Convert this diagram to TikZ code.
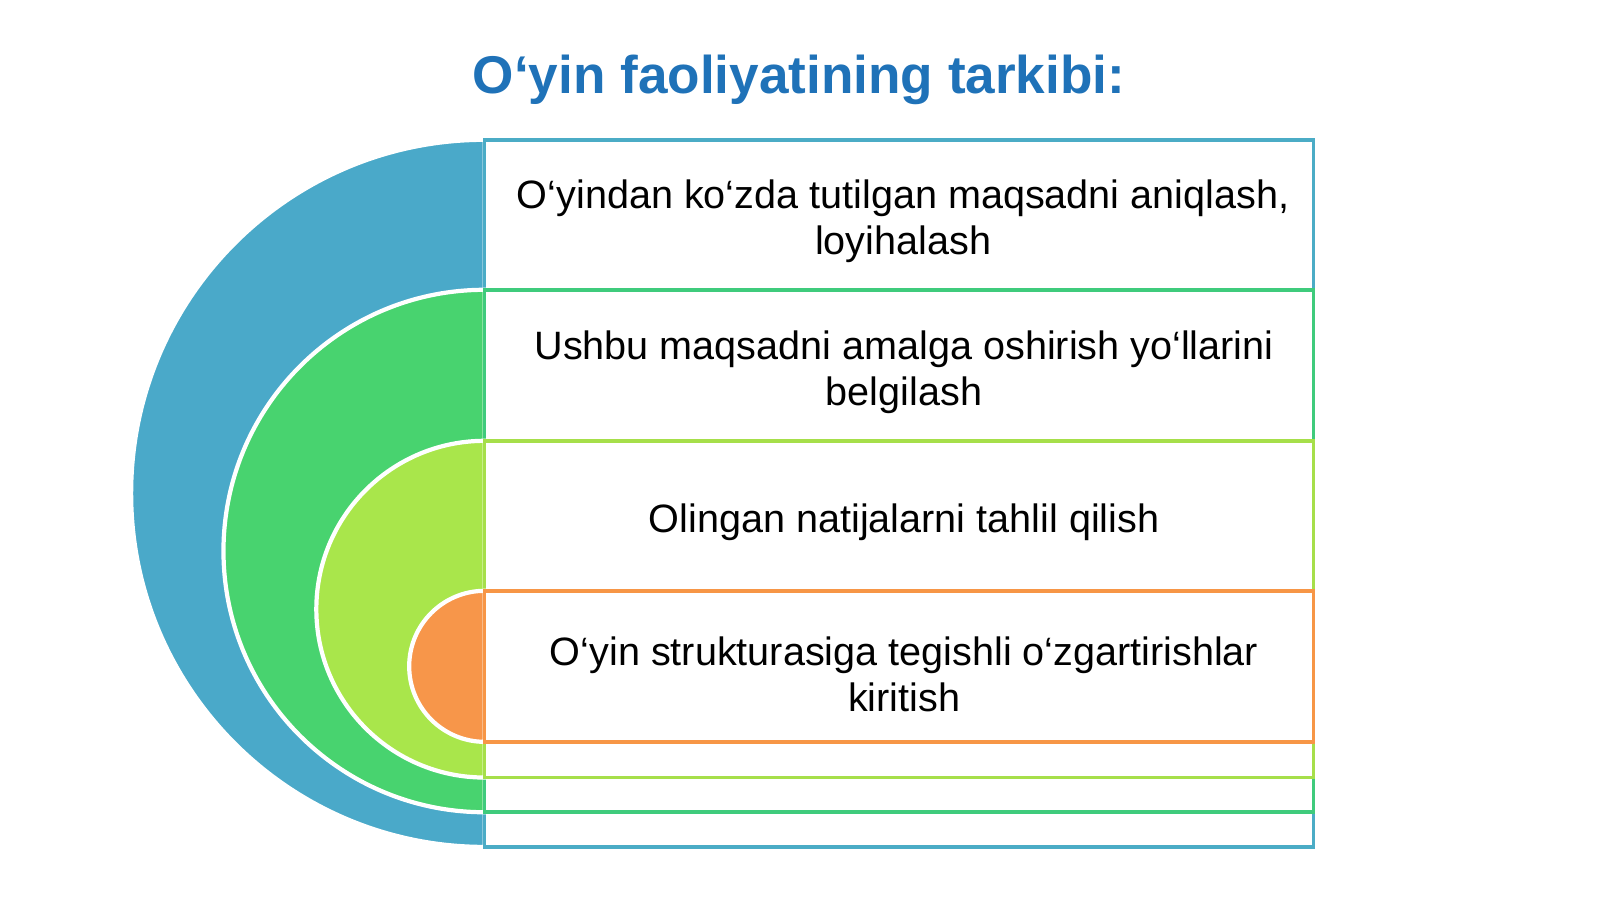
\documentclass[tikz,border=0pt]{standalone}
\usepackage{fontspec}
\setmainfont{Liberation Sans}
\definecolor{titleblue}{HTML}{1F72B8}
\definecolor{ringblue}{HTML}{4AA9C9}
\definecolor{ringgreen}{HTML}{48D36F}
\definecolor{ringlime}{HTML}{A9E64B}
\definecolor{ringorange}{HTML}{F7964A}
\definecolor{edgeblue}{HTML}{4BACC6}
\definecolor{edgegreen}{HTML}{3FCB7C}
\definecolor{edgelime}{HTML}{A6DF4A}
\definecolor{edgeorange}{HTML}{F79646}
\tikzset{
  ring/.style={draw=white, line width=1.2pt},
  band/.style={fill=white, line width=1pt},
  itemtext/.style={align=center, font=\fontsize{11.25}{13.1}\selectfont, inner sep=0pt}
}
\begin{document}
\begin{tikzpicture}[x=0.0102cm, y=-0.0102cm]
  \useasboundingbox (0,0) rectangle (1568,881);
  \node at (783,78) [font=\bfseries\fontsize{15.1}{18}\selectfont, text=titleblue] (title) {O‘yin faoliyatining tarkibi:};
  % blue layer
  \fill[ringblue, ring] (475,137) arc (270:90:346.5) -- cycle;
  \draw[band, draw=edgeblue] (475,137) rectangle (1287,830);
  % green layer
  \fill[ringgreen, ring] (475,284) arc (270:90:256) -- cycle;
  \draw[band, draw=edgegreen] (475,284) rectangle (1287,796);
  % lime layer
  \fill[ringlime, ring] (475,432) arc (270:90:165) -- cycle;
  \draw[band, draw=edgelime] (475,432) rectangle (1287,762);
  % orange layer
  \fill[ringorange, ring] (475,579) arc (270:90:74) -- cycle;
  \draw[band, draw=edgeorange] (475,579) rectangle (1287,727);
  % texts
  \node at (885,217) [itemtext] (goal) {O‘yindan ko‘zda tutilgan maqsadni aniqlash,\\ loyihalash};
  \node at (886,365) [itemtext] (ways) {Ushbu maqsadni amalga oshirish yo‘llarini\\ belgilash};
  \node at (886,512) [itemtext] (analysis) {Olingan natijalarni tahlil qilish};
  \node at (886,661) [itemtext] (changes) {O‘yin strukturasiga tegishli o‘zgartirishlar\\ kiritish};
\end{tikzpicture}
\end{document}
